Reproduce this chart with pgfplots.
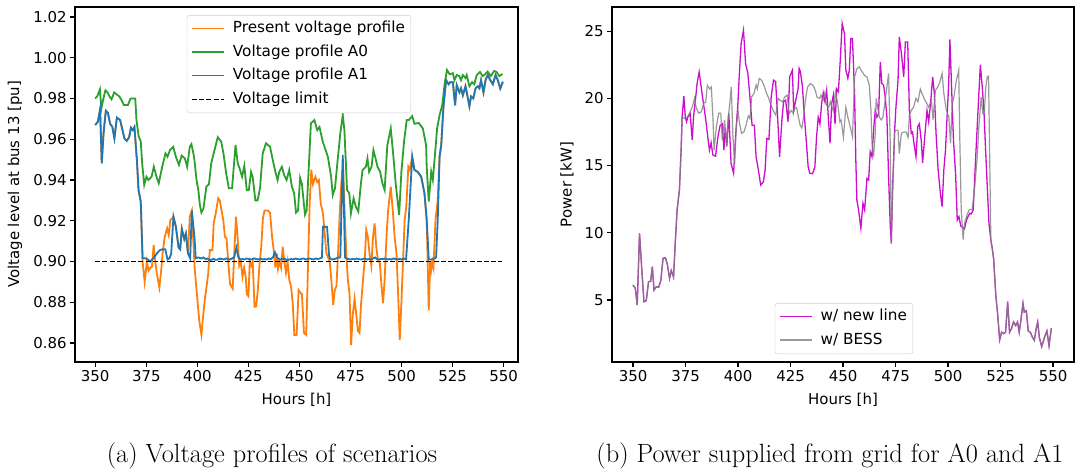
\documentclass[border=0pt]{standalone}
\usepackage{fontspec}
\usepackage{pgfplots}
\pgfplotsset{compat=1.18}
\newfontfamily\dejavu{DejaVu Sans}
\definecolor{mplorange}{HTML}{FF7F0E}
\definecolor{mplgreen}{HTML}{2CA02C}
\definecolor{mplblue}{HTML}{1F77B4}
\definecolor{mmag}{rgb}{0.8,0.05,0.8}
\definecolor{mgray}{HTML}{808080}
\newcommand{\mplfont}{\dejavu\fontsize{15}{18}\selectfont}
\newcommand{\legfont}{\dejavu\fontsize{15.3}{18}\selectfont}
\pgfplotsset{
  legend image code/.code={\path[draw=none,fill=none] (0bp,-4bp) rectangle (39bp,4bp); \draw[#1] (0bp,0.25bp) -- (32bp,0.25bp);},
  mpl/.style={
    scale only axis,
    axis line style={line width=1.1bp},
    tick align=outside,
    tick pos=left,
    major tick length=4.9bp,
    every tick/.style={line width=1.1bp, black},
    tick label style={font=\mplfont},
    label style={font=\mplfont},
    /pgf/number format/assume math mode=true,
    legend cell align=left,
    legend style={font=\legfont, draw=black!20, rounded corners=2.5bp, fill=white, inner xsep=4bp, inner ysep=4bp, row sep=4.5bp,
      nodes={text height=11.5bp, text depth=3.5bp, inner ysep=2bp}},
    xtick={350,375,400,425,450,475,500,525,550},
    xlabel={Hours [h]},
    xlabel style={at={(axis description cs:0.5,-0.107)}, anchor=center},
  }
}
\begin{document}
\begin{tikzpicture}[x=1bp,y=1bp]
\path[use as bounding box] (0,0) rectangle (1081,472);
\begin{axis}[mpl, at={(75bp,110bp)}, anchor=south west, width=443bp, height=355bp,
  xmin=340.1, xmax=557, ymin=0.8507, ymax=1.0249,
  ytick={0.86,0.88,0.90,0.92,0.94,0.96,0.98,1.00,1.02},
  yticklabel style={/pgf/number format/.cd, fixed, fixed zerofill, precision=2},
  ylabel={Voltage level at bus 13 [pu]},
  ylabel style={at={(axis description cs:-0.1354,0.5)}, anchor=center},
  legend style={at={(axis description cs:0.5056,0.977)}, anchor=north},
]
% Present voltage profile
\addplot[mplorange, line width=1.8bp] coordinates {
(350,0.967)(351.3,0.9686)(352.4,0.9747)(353.2,0.9482)(354.1,0.9633)(355.2,0.974)(356.2,0.973)(357.3,0.9676)(358.4,0.966)(359.4,0.9604)(360.6,0.9706)(362.2,0.9694)(363,0.966)(364.3,0.9604)(365.4,0.9592)(366.6,0.961)(367.5,0.9657)(368.4,0.9645)(369.2,0.966)(370.4,0.9498)(371.2,0.9351)(372.3,0.9294)
(373.2,0.900)(374.2,0.890)(375.3,0.900)(376.1,0.8955)(377,0.897)(377.8,0.8975)(378.6,0.908)(379.4,0.900)(380.2,0.894)(381.4,0.8873)(382.4,0.8966)(383,0.904)(384,0.912)(385.2,0.9163)(386,0.913)(386.8,0.9204)(387.6,0.921)(388.3,0.922)(389.5,0.917)(390.8,0.907)(391.6,0.906)(392.4,0.916)(393.6,0.911)(394.4,0.9137)(395.4,0.904)(396.3,0.922)(397.3,0.925)(398.7,0.8966)(399.9,0.8827)(400.9,0.8713)(402,0.864)(402.9,0.874)(403.7,0.8818)(404.5,0.8876)(405.3,0.894)(406.1,0.9056)(407.4,0.9056)(408,0.9187)(409,0.9236)(410.2,0.931)(411,0.930)(411.8,0.9253)(412.7,0.9204)(413.5,0.9122)(414.3,0.9114)(415.1,0.900)(416,0.889)(417.3,0.8867)(417.9,0.900)(418.9,0.922)(419.6,0.9138)(420.5,0.898)(421.3,0.900)(422.1,0.8925)(422.9,0.897)(423.7,0.8925)(424.2,0.884)(425,0.883)(425.7,0.900)(426.4,0.898)(427.1,0.900)(428,0.8778)(428.8,0.878)(429.6,0.886)(430.4,0.898)(431.3,0.9073)(432.1,0.9212)(432.9,0.925)(434.5,0.925)(435.6,0.924)(436.6,0.912)(437.4,0.9056)(438.2,0.897)(438.9,0.904)(439.5,0.8966)(440.2,0.900)(441,0.897)(441.8,0.9073)(442.6,0.900)(443.4,0.8945)(444.2,0.900)(445,0.891)(445.9,0.8876)(446.7,0.8795)(447.5,0.864)(448.6,0.864)(449.6,0.886)(450.7,0.8843)(451.2,0.884)(452.2,0.865)(453.3,0.864)(454.1,0.895)(455,0.9286)(455.8,0.945)(456.6,0.938)(457.8,0.9416)(458.7,0.939)(459.5,0.940)(460.4,0.9286)(461.5,0.9236)(463.2,0.904)(464.8,0.900)(465.6,0.891)(466.5,0.8787)(467.3,0.886)(468.1,0.888)(468.9,0.904)(469.7,0.9236)(470.5,0.9384)(471.3,0.948)(472.1,0.925)(472.9,0.904)(473.7,0.891)(474.5,0.8843)(475.3,0.859)(476.1,0.874)(477,0.8818)(477.8,0.874)(478.6,0.866)(479.4,0.865)(480.2,0.8795)(481.1,0.891)(481.9,0.900)(482.7,0.9155)(483.5,0.912)(484.3,0.904)(485.2,0.898)(486,0.912)(486.8,0.9187)(487.6,0.9073)(488.5,0.900)(489.3,0.900)(490.1,0.889)(490.9,0.8795)(491.7,0.891)(492.6,0.912)(493.4,0.925)(494.7,0.9367)(495.8,0.9236)(496.6,0.912)(497.5,0.904)(498.3,0.8843)(499.1,0.8615)(499.9,0.8795)(500.7,0.900)(501.5,0.9204)(502.3,0.9269)(503.3,0.9465)(504,0.945)(505.2,0.9514)(506.3,0.9449)(507.9,0.944)(509.6,0.9416)(511.2,0.9335)(512.3,0.9204)(513.3,0.876)(514,0.900)(514.5,0.896)(515,0.900)(515.6,0.897)(516.6,0.9204)(517.7,0.93)(518.6,0.9514)(519.4,0.957)(520.5,0.976)(521.8,0.989)(523,0.987)(523.8,0.988)(525.1,0.988)(526.2,0.9767)(527,0.9865)(528.3,0.983)(529.1,0.985)(530,0.9816)(531.3,0.986)(531.9,0.983)(533.2,0.9762)(534,0.981)(535.1,0.980)(536.2,0.985)(537.3,0.986)(538.1,0.985)(538.9,0.989)(540.1,0.983)(541.1,0.989)(542.2,0.9915)(543.4,0.989)(544.7,0.987)(546,0.9915)(547.1,0.989)(548.3,0.9849)(549.6,0.9882)
};
\addlegendentry{Present voltage profile}
% A0
\addplot[mplgreen, line width=1.8bp] coordinates {
(350,0.980)(351,0.981)(352.3,0.9845)(353,0.975)(354,0.980)(355,0.984)(356,0.983)(357,0.981)(358,0.9796)(359.3,0.983)(360.5,0.982)(361.8,0.981)(363,0.979)(364,0.9768)(366,0.9768)(367.3,0.980)(368.8,0.980)(369.6,0.980)(370.2,0.9694)(371.3,0.9613)(372.3,0.959)(373,0.948)(374,0.9376)(375.1,0.9416)(376,0.940)(377.6,0.9416)(378.7,0.9465)(380,0.9416)(381.1,0.9384)(382.8,0.9465)(384.4,0.953)(385.4,0.9514)(386.6,0.9547)(388.2,0.9563)(389.5,0.9514)(391,0.9474)(392.3,0.952)(393.9,0.9506)(395,0.9465)(396.3,0.9563)(397.1,0.9576)(398.4,0.9514)(399.6,0.940)(400.5,0.935)(401.2,0.928)(402,0.924)(403,0.926)(404.4,0.9367)(405.7,0.938)(406.8,0.9482)(408.4,0.9547)(410,0.961)(411.7,0.9588)(412.8,0.953)(414.1,0.9433)(415.4,0.936)(417,0.936)(418.7,0.9572)(419.8,0.948)(420.6,0.946)(421.9,0.9416)(423,0.947)(424.2,0.935)(425.2,0.935)(426.3,0.944)(427.1,0.9416)(428.4,0.930)(429.5,0.930)(430.7,0.936)(432,0.953)(433.6,0.958)(435.6,0.9563)(436.9,0.950)(438.2,0.944)(439.3,0.940)(440.1,0.944)(441.4,0.9465)(442.5,0.9424)(443.7,0.940)(445,0.9449)(446.3,0.9367)(447.4,0.9335)(448.3,0.924)(449.3,0.925)(450.3,0.941)(451.2,0.938)(452.7,0.923)(453.5,0.925)(454.5,0.945)(455.6,0.9678)(457.3,0.9694)(458.7,0.9645)(459.8,0.966)(461.4,0.9588)(463.9,0.9514)(465.5,0.9416)(466.3,0.9326)(467.4,0.936)(468.7,0.9498)(470,0.9629)(471.2,0.9719)(472,0.9645)(473.3,0.9351)(474.4,0.9335)(475.2,0.9236)(476.5,0.931)(477.6,0.927)(478.8,0.9245)(480.1,0.9384)(480.9,0.9449)(482.5,0.9465)(483.3,0.9506)(484.1,0.944)(485.3,0.9465)(486.2,0.9547)(487.4,0.950)(488.2,0.9465)(489.5,0.944)(490.6,0.9384)(491.7,0.9351)(493,0.957)(494.7,0.9653)(496,0.9514)(497.1,0.9384)(498.8,0.9228)(499.9,0.944)(501.2,0.9588)(502.5,0.9694)(503.5,0.9694)(505.2,0.9714)(506.3,0.9676)(508.4,0.968)(510.4,0.9653)(512,0.9571)(512.3,0.9465)(513.3,0.9294)(514.5,0.944)(515.3,0.940)(516.6,0.9555)(517.4,0.9653)(518.6,0.9718)(519.9,0.9767)(521,0.9865)(522.2,0.994)(523.5,0.9919)(525.1,0.9924)(525.9,0.989)(527,0.9915)(528.3,0.991)(529.1,0.989)(530,0.9915)(531.3,0.990)(531.9,0.9915)(533.2,0.986)(534.5,0.988)(535.6,0.987)(536.8,0.9915)(538.4,0.993)(539.7,0.991)(540.5,0.9915)(542.1,0.9932)(543.7,0.991)(545.3,0.9935)(546.5,0.993)(547.8,0.991)(549.4,0.992)
};
\addlegendentry{Voltage profile A0}
% A1
\addplot[mplblue, line width=1.8bp] coordinates {
(350,0.967)(351.3,0.9686)(352.4,0.9747)(353.2,0.9482)(354.1,0.9633)(355.2,0.974)(356.2,0.973)(357.3,0.9676)(358.4,0.966)(359.4,0.9604)(360.6,0.9706)(362.2,0.9694)(363,0.966)(364.3,0.9604)(365.4,0.9592)(366.6,0.961)(367.5,0.9657)(368.4,0.9645)(369.2,0.966)(370.4,0.9498)(371.2,0.9351)(372.3,0.9294)(373.2,0.9016)(374.5,0.9016)(375.8,0.901)(376.9,0.900)(378.5,0.9016)(380.2,0.904)(381.8,0.9057)(383,0.906)(384.3,0.906)(385.4,0.901)(386.4,0.9016)(387.2,0.904)(388.3,0.922)(389.5,0.917)(390.8,0.907)(391.6,0.906)(392.4,0.916)(393.6,0.911)(394.4,0.9137)(395.4,0.904)(396.5,0.9016)(397.3,0.925)(398.6,0.912)(399.2,0.9016)(400.5,0.902)(402,0.9015)(403,0.902)(404,0.9012)(405,0.9015)(406,0.9005)(407,0.901)(408,0.9013)(409,0.9008)(410,0.901)(411,0.9015)(412,0.9012)(413,0.901)(414,0.9015)(415,0.9012)(416,0.901)(417,0.9015)(418,0.902)(419.1,0.9068)(420,0.9025)(421,0.901)(422,0.9012)(423,0.901)(424,0.9015)(425,0.9013)(426,0.901)(427,0.9012)(428,0.9015)(429,0.9012)(430,0.901)(431,0.9015)(432,0.901)(433,0.9012)(434,0.901)(435,0.9015)(436,0.9012)(437,0.902)(438,0.9045)(439,0.902)(440,0.9012)(441,0.901)(442,0.9015)(443,0.9012)(444,0.9005)(445,0.901)(446,0.9012)(447,0.901)(448,0.9015)(449,0.9012)(450,0.901)(451,0.9013)(452,0.9015)(453,0.901)(454,0.9013)(455,0.9015)(456,0.9012)(457,0.901)(458,0.9015)(459,0.9012)(460,0.9015)(461,0.902)(461.5,0.917)(463.5,0.917)(464.5,0.903)(465,0.9015)(466,0.901)(467,0.9012)(468,0.9015)(469,0.902)(470,0.902)(471.2,0.9523)(472.3,0.902)(473,0.9015)(474,0.9012)(475,0.901)(476,0.9013)(477,0.901)(478,0.9015)(479,0.9012)(480,0.901)(481,0.9012)(482,0.9015)(483,0.901)(484,0.9012)(485,0.901)(486,0.9015)(487,0.902)(488,0.9012)(489,0.901)(490,0.9013)(491,0.9012)(492,0.9015)(493,0.901)(494,0.9012)(495,0.901)(496,0.9015)(497,0.9012)(498,0.901)(499,0.9013)(500,0.901)(501,0.9015)(502.2,0.901)(503.5,0.9204)(505.2,0.9514)(506.3,0.9449)(507.9,0.944)(509.6,0.9416)(511.2,0.9335)(512.3,0.9204)(513.3,0.901)(514.5,0.901)(515.6,0.9012)(516.9,0.902)(517.7,0.9204)(518.6,0.9514)(519.4,0.957)(520.5,0.976)(521.8,0.989)(523,0.987)(523.8,0.988)(525.1,0.988)(526.2,0.9767)(527,0.9865)(528.3,0.983)(529.1,0.985)(530,0.9816)(531.3,0.986)(531.9,0.983)(533.2,0.9762)(534,0.981)(535.1,0.980)(536.2,0.985)(537.3,0.986)(538.1,0.985)(538.9,0.989)(540.1,0.983)(541.1,0.989)(542.2,0.9915)(543.4,0.989)(544.7,0.987)(546,0.9915)(547.1,0.989)(548.3,0.9849)(549.6,0.9882)
};
\addlegendentry{Voltage profile A1}
\addplot[black, line width=1.1bp, dash pattern=on 5bp off 2.2bp] coordinates {(350,0.9)(549,0.9)};
\addlegendentry{Voltage limit}
\end{axis}
\begin{axis}[mpl, at={(612bp,110bp)}, anchor=south west, width=462bp, height=355bp,
  xmin=340, xmax=560, ymin=0.39, ymax=26.8,
  ytick={5,10,15,20,25},
  ylabel={Power [kW]},
  ylabel style={at={(axis description cs:-0.0974,0.5)}, anchor=center},
  legend style={at={(axis description cs:0.502,0.0225)}, anchor=south},
]
\addplot[mmag, line width=1.3bp] coordinates {
(350,6.11)(351.1,5.87)(352,4.63)(353.1,9.96)(354.2,7.23)(355.2,4.87)(356.3,4.95)(357.4,6.36)(358.4,6.4)(359.2,7.48)(360,5.74)(361.1,5.99)(362.2,5.95)(363.2,6.4)(364.3,8.1)(365.4,8.15)(366.3,7.7)(367.4,6.61)(368.2,7.2)(369.3,6.71)(370.1,9.2)(371,11.7)(372.1,13.18)(372.9,16.15)(373.4,18.63)
(374.2,20.17)(374.9,18.6)(375.5,18.26)(376.1,18.6)(377.2,18.87)(378.2,16.9)(378.8,18.6)(379.8,20.0)(380.5,21.1)(381.5,21.97)(383.2,20.0)(384.5,18.6)(385.6,17.14)(386.4,16.15)(387.2,16.7)(388,15.8)(389.3,15.7)(390.4,17.1)(391.5,18.0)(392.5,18.1)(393.3,16.15)(393.9,17.8)(394.7,16.5)(395.6,18.9)(396.7,15.16)(397.9,14.42)(398.8,17.1)(399.9,19.5)(400.7,22)(401.5,24.1)(402.6,25.07)(403.6,22.6)(404.7,21.85)(405.8,19.87)(406.7,18)(407.8,18)(408.6,15.66)(409.7,14.67)(410.8,13.55)(412.1,13.8)(412.9,14.67)(413.7,17.02)(414.7,16.95)(415.8,20.12)(416.9,21.36)(417.9,21.25)(418.7,19.1)(419.8,15.66)(420.9,18.4)(421.7,19.75)(422.7,19.87)(423.8,18.26)(424.6,21.6)(425.9,22.1)(426.5,19.1)(427.5,19.87)(428.6,20.7)(429.1,22.23)(429.7,22.0)(430.7,20.85)(431.5,18.87)(432.6,16.65)(433.4,14.91)(434.2,14.42)(435.5,14.4)(436.6,14.9)(437.4,17.14)(438.2,18.6)(439,18.1)(439.8,19.6)(440.6,20.4)(441.4,19.75)(442.2,20.6)(443,18.6)(443.8,16.65)(444.6,19.6)(445.4,20.24)(446.2,18.1)(447,20.7)(447.8,20.5)(448.6,22.6)(449.6,25.57)(450.7,24.8)(451.35,22.1)(452.3,21.5)(453,22.1)(453.7,24.45)(454.5,24.45)(455.5,20.37)(456.1,15.4)(456.6,12.43)(457.4,11.7)(458.5,10.33)(459.5,12.2)(460.3,11.7)(461.4,14.05)(462.2,13.92)(462.95,16.03)(463.8,15.66)(464.55,17.64)(465.35,19.1)(466.15,18.6)(466.95,18.87)(467.75,22.72)(468.5,21.1)(469.3,21.0)(470.1,20.1)(470.9,18.6)(471.7,14.2)(472.5,10.45)(473,9.22)(473.6,13.2)(474.6,17.64)(475.2,19.35)(476.2,21.36)(476.8,24.58)(477.8,23.35)(478.9,21.6)(479.7,24.2)(480.8,24.2)(481.6,19.1)(482.5,17.4)(483.1,17.5)(483.8,16.65)(484.75,15.66)(485.6,17.9)(486.35,18.1)(487.3,16.8)(487.9,15.2)(488.9,17.1)(490,19.1)(490.8,18.26)(491.75,19.75)(492.7,21.6)(493.5,20.37)(494.3,17.4)(495.3,14.67)(496.4,12.9)(497.2,11.95)(498,14.67)(498.8,16.15)(499.6,18.8)(500.3,21)(500.9,24.38)(501.8,20.37)(502.6,16.9)(503.6,14.4)(504.4,10.95)(505.2,11.2)(506.1,10.5)(507,10.4)(507.85,10.3)(508.8,10.95)(509.5,11.2)(510.4,11.45)(511,11.4)(512,11.7)(513.1,15.4)(513.9,17.9)(514.7,20.37)(515.4,22.5)(516.3,20.85)(517.1,19.1)(517.9,16.15)(518.7,13.4)(519.5,10.7)(520.4,9.46)
(521,8.9)(521.7,8.1)(522.8,5.25)(523.6,4.0)(524.6,2.03)(525.5,2.6)(526.5,2.5)(527.4,2.6)(528.4,4.87)(529.3,2.6)(530.3,2.9)(531.2,3.37)(532.2,3.1)(533.1,3.37)(533.9,2.6)(534.7,3.5)(535.7,4.75)(536.3,4.1)(537.3,4.2)(538.2,2.7)(539.2,2.6)(540.3,2.2)(541.1,2.0)(541.9,2.8)(542.7,3.37)(543.5,2.2)(544.6,1.53)(545.9,2.2)(547.1,2.7)(548.1,1.6)(549.2,2.9)
};
\addlegendentry{w/ new line}
\addplot[mgray, line width=1.2bp, opacity=0.8] coordinates {
(350,6.11)(351.1,5.87)(352,4.63)(353.1,9.96)(354.2,7.23)(355.2,4.87)(356.3,4.95)(357.4,6.36)(358.4,6.4)(359.2,7.48)(360,5.74)(361.1,5.99)(362.2,5.95)(363.2,6.4)(364.3,8.1)(365.4,8.15)(366.3,7.7)(367.4,6.61)(368.2,7.2)(369.3,6.71)(370.1,9.2)(371,11.7)(372.1,13.18)(372.9,16.15)(373.4,18.63)
(374.6,18.5)(375.8,18.6)(376.9,18.9)(378.1,19.3)(379.3,20.0)(380.1,19.3)(381.3,18.9)(382.5,19.0)(383.8,19.7)(384.6,19.7)(385.4,20.98)(386.5,20.7)(387.3,20.85)(388.1,18.4)(388.6,16.15)(389.7,17.9)(390.8,18.9)(391.8,18.9)(392.5,16.9)(393.6,18.4)(394.6,16.4)(395.2,18.4)(396,19.5)(396.8,20.85)(397.6,17.1)(398.4,15.16)(399.2,17.9)(400,19.1)(400.6,18.26)(401.7,17.4)(402.8,17.5)(403.8,18.0)(404.9,18.7)(405.7,18.5)(406.5,20.12)(407.6,20.37)(408.6,21.0)(409.2,20.7)(410.1,21.48)(411.2,21.36)(412.3,21.0)(413.6,20.37)(414.4,20.1)(415.5,19.6)(416.7,19.1)(418,18.75)(419.1,20.0)(419.9,19.87)(421.2,19.75)(422.3,20.12)(423.4,20.24)(424.4,18.87)(425.5,19.1)(426.3,18.9)(427.1,19.3)(427.9,19.3)(428.8,18.6)(429.6,18.0)(430.4,17.8)(431.2,18.6)(432,19.75)(433.1,20.85)(434.4,21.1)(435.7,20.98)(436.8,20.6)(437.6,20.1)(438.9,20.0)(439.5,20.24)(440.5,19.87)(441.3,20.4)(442.1,19.5)(443.2,19.35)(444,19.75)(445.3,19.1)(446.4,20.5)(447.5,19.6)(448.5,18.26)(449.1,18.4)(450.2,17.1)(451.35,19.35)(452.3,18.6)(453.4,17.9)(454.5,17.14)(455.5,21.6)(456.6,22.2)(457.7,22.35)(459,22.0)(460.3,21.7)(461.4,21.6)(462.5,21.0)(463.3,19.1)(463.8,16.65)(464.55,15.66)(465.35,17.4)(465.8,20.0)(466.5,19.35)(467.3,18.6)(468.2,18.4)(469,18.6)(470.1,19.9)(470.9,20.85)(471.7,21.85)(472.5,16.65)(473,9.2)(473.6,13.0)(474.6,17.5)(475.2,17.64)(476.2,17.64)(476.8,15.9)(477.8,17.4)(478.9,17.5)(480,17.5)(481,17.1)(481.6,18.75)(482.5,19.1)(483.65,19.35)(484.75,20.0)(485.7,19.75)(486.8,20.7)(487.6,20.37)(488.9,19.9)(490,19.6)(490.8,19.35)(492.1,19.87)(492.85,18.4)(494,20.6)(495.1,20.85)(496.05,21.2)(497.2,21.85)(498,20.37)(499.1,19.2)(500.4,18.6)(501.2,16.65)(502,19.6)(502.8,20.1)(504,21.36)(505.1,22.1)(505.6,17.1)(506.3,11.7)(507.2,9.5)(507.85,10.7)(508.8,11.2)(510,11.7)(511.5,11.75)(512.6,13.2)(513.9,15.66)(514.7,17.9)(515.8,20.1)(516.6,18.87)(517.3,18.9)(517.9,20.7)(518.7,21.6)(519.3,21.66)(520.4,9.46)
(521,8.9)(521.7,8.1)(522.8,5.25)(523.6,4.0)(524.6,2.03)(525.5,2.6)(526.5,2.5)(527.4,2.6)(528.4,4.87)(529.3,2.6)(530.3,2.9)(531.2,3.37)(532.2,3.1)(533.1,3.37)(533.9,2.6)(534.7,3.5)(535.7,4.75)(536.3,4.1)(537.3,4.2)(538.2,2.7)(539.2,2.6)(540.3,2.2)(541.1,2.0)(541.9,2.8)(542.7,3.37)(543.5,2.2)(544.6,1.53)(545.9,2.2)(547.1,2.7)(548.1,1.6)(549.2,2.9)
};
\addlegendentry{w/ BESS}
\end{axis}
\node[font=\fontsize{26.5}{30}\selectfont] at (272,16) {(a) Voltage profiles of scenarios};
\node[font=\fontsize{26.5}{30}\selectfont] at (830,16) {(b) Power supplied from grid for A0 and A1};
\end{tikzpicture}
\end{document}
